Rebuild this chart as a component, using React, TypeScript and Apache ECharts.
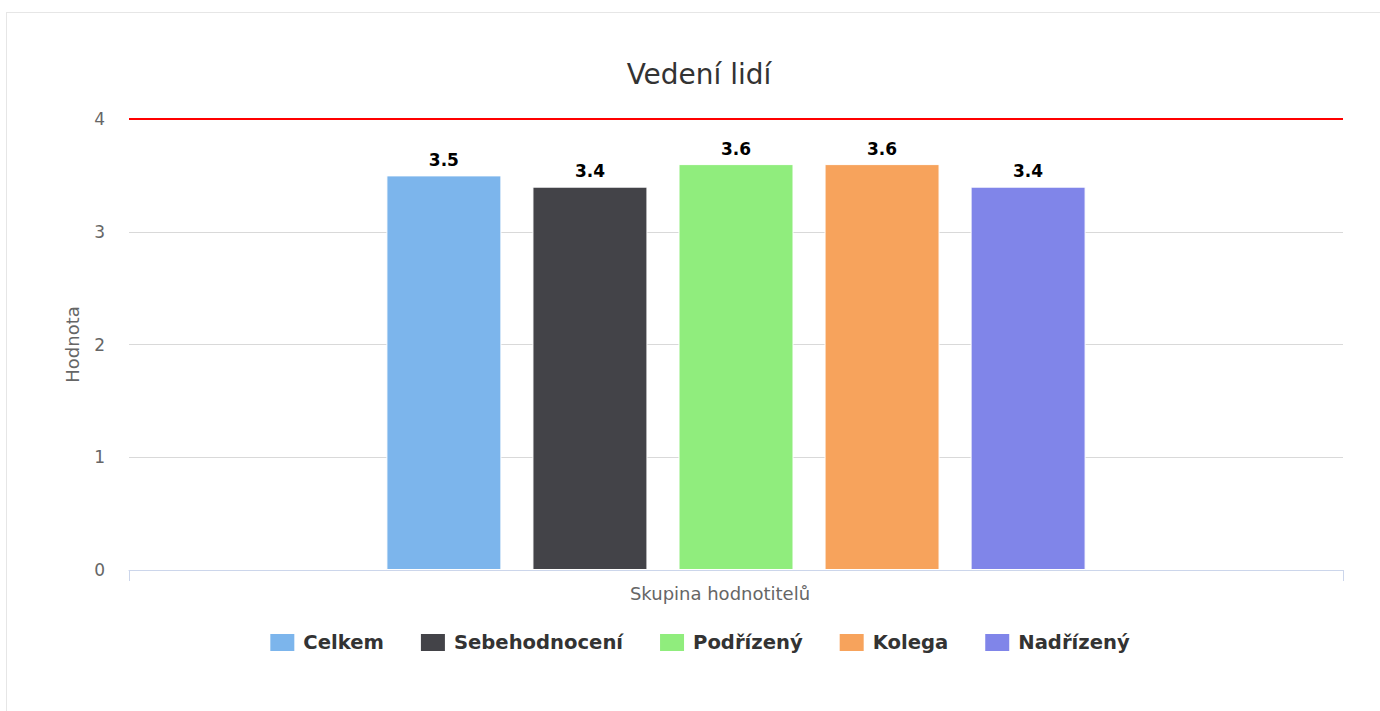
import React, { useEffect, useRef } from "react";
import * as echarts from "echarts";

const chartTitle = "Vedení lidí";
const categories = ["Vedení lidí"];
const seriesNames = ["Celkem", "Sebehodnocení", "Podřízený", "Kolega", "Nadřízený"];
const seriesValues = [3.5, 3.4, 3.6, 3.6, 3.4];
const seriesColors = ["#7cb5ec", "#434348", "#90ed7d", "#f7a35c", "#8085e9"];
const yTicks = { min: 0, max: 4, interval: 1 };
const targetValue = 4;
const xAxisTitle = "Skupina hodnotitelů";
const yAxisTitle = "Hodnota";

const FONT = "'DejaVu Sans', sans-serif";

export default function App() {
  const ref = useRef<HTMLDivElement>(null);

  useEffect(() => {
    document.body.style.margin = "0";
    document.body.style.overflow = "hidden";
    if (!ref.current) return;
    const chart = echarts.init(ref.current, undefined, { renderer: "svg" });

    const series = seriesNames.map((name, i) => ({
      name,
      type: "bar",
      data: [seriesValues[i]],
      barWidth: 115,
      barGap: "27%",
      itemStyle: { color: seriesColors[i], borderColor: "#ffffff", borderWidth: 1 },
      label: {
        show: true,
        position: "top",
        distance: 7,
        color: "#000000",
        fontFamily: FONT,
        fontWeight: "bold",
        fontSize: 17,
        textBorderColor: "#ffffff",
        textBorderWidth: 2,
      },
      ...(i === 0
        ? {
            markLine: {
              silent: true,
              symbol: ["none", "none"],
              label: { show: false },
              lineStyle: { color: "#ff0000", width: 2, type: "solid" },
              data: [{ yAxis: targetValue }],
            },
          }
        : {}),
    }));

    chart.setOption({
      animation: false,
      textStyle: { fontFamily: FONT },
      title: {
        text: chartTitle,
        left: "center",
        top: 42,
        textStyle: { fontFamily: FONT, fontSize: 28, fontWeight: "normal", color: "#333333" },
      },
      legend: {
        top: 614,
        left: "center",
        icon: "rect",
        itemWidth: 26,
        itemHeight: 19,
        itemGap: 35,
        data: seriesNames,
        textStyle: {
          fontFamily: FONT,
          fontSize: 19.6,
          fontWeight: "bold",
          color: "#333333",
          padding: [0, 0, 0, 3],
        },
      },
      grid: { left: 122, right: 48, top: 106, bottom: 143, containLabel: false },
      xAxis: {
        type: "category",
        data: categories,
        name: xAxisTitle,
        nameLocation: "middle",
        nameGap: 14,
        nameTextStyle: {
          fontFamily: FONT,
          fontSize: 18,
          color: "#666666",
          verticalAlign: "top",
          padding: [0, 32, 0, 0],
        },
        axisLine: { show: true, lineStyle: { color: "#ccd6eb", width: 1 } },
        axisTick: { show: true, length: 11, lineStyle: { color: "#ccd6eb", width: 1 } },
        axisLabel: { show: false },
        splitLine: { show: false },
      },
      yAxis: {
        type: "value",
        min: yTicks.min,
        max: yTicks.max,
        interval: yTicks.interval,
        name: yAxisTitle,
        nameLocation: "middle",
        nameGap: 48,
        nameTextStyle: { fontFamily: FONT, fontSize: 18, color: "#666666" },
        axisLine: { show: false },
        axisTick: { show: false },
        axisLabel: { fontFamily: FONT, fontSize: 17, color: "#666666", margin: 24 },
        splitLine: { show: true, lineStyle: { color: "#d9d9d9", width: 1 } },
      },
      series,
    });

    return () => chart.dispose();
  }, []);

  return (
    <div
      style={{
        position: "fixed",
        left: 0,
        top: 0,
        width: 1380,
        height: 711,
        overflow: "hidden",
        background: "#ffffff",
      }}
    >
      <div
        style={{
          position: "absolute",
          left: 6,
          top: 12,
          width: 1386,
          height: 702,
          border: "1px solid #e6e6e6",
          boxSizing: "border-box",
          background: "#ffffff",
        }}
      >
        <div ref={ref} style={{ width: 1384, height: 700 }} />
      </div>
    </div>
  );
}
